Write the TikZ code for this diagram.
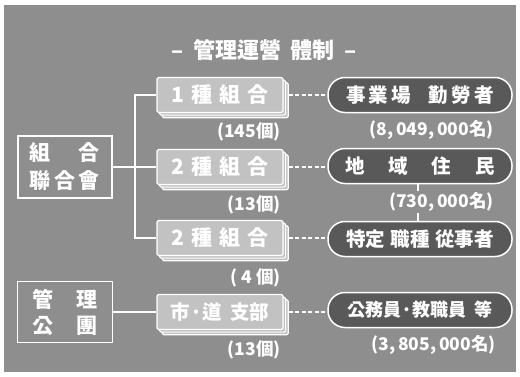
\documentclass[tikz,border=0pt]{standalone}
\usepackage{fontspec}
\setmainfont{Noto Sans CJK KR}
\usetikzlibrary{shadows}
\definecolor{bgc}{HTML}{8E8E8E}
\definecolor{boxc}{HTML}{C2C2C2}
\definecolor{pillc}{HTML}{595959}
\tikzset{
  stackbox/.style={rectangle, rounded corners=1.5pt, minimum width=126pt, minimum height=35pt,
    fill=boxc, draw=white, line width=1.2pt, text=white, inner sep=0pt,
    font=\fontsize{21}{24}\selectfont\bfseries,
    double copy shadow={shadow xshift=2.6pt, shadow yshift=-2.6pt}},
  pill/.style={rectangle, rounded corners=17pt, minimum width=184pt, minimum height=35pt,
    fill=pillc, draw=white, line width=1.5pt, text=white, inner sep=0pt,
    font=\fontsize{19.5}{22}\selectfont\bfseries},
  orgbox/.style={rectangle, fill=bgc, draw=white, line width=1.4pt, text=white, inner sep=0pt,
    align=center},
  cnt/.style={text=white, inner sep=1pt, font=\fontsize{17.5}{20}\selectfont\bfseries},
  conn/.style={draw=white, line width=1.8pt},
  dconn/.style={draw=white, line width=1.3pt, dash pattern=on 4pt off 2.5pt},
  ttl/.style={text=white, font=\fontsize{22}{25}\selectfont\bfseries}
}
\begin{document}
\begin{tikzpicture}[x=1pt,y=-1pt]
\useasboundingbox (0,0) rectangle (520,376);
\fill[white] (0,0) rectangle (520,376);
\fill[bgc] (4,5) rectangle (516,372);

\node[ttl] (title) at (264,50) {–\hspace{0.45em}管理運營\hspace{0.45em}體制\hspace{0.45em}–};

% stacked boxes
\node[stackbox] (b1) at (220,95) {\makebox[97pt][s]{1\hfill 種\hfill 組\hfill 合}};
\node[stackbox] (b2) at (220,167) {\makebox[97pt][s]{2\hfill 種\hfill 組\hfill 合}};
\node[stackbox] (b3) at (220,238) {\makebox[97pt][s]{2\hfill 種\hfill 組\hfill 合}};
\node[stackbox, font=\fontsize{19.5}{22}\selectfont\bfseries] (b4) at (220,312)
  {市·道\hspace{0.45em}支部};

\node[cnt, anchor=east] (c1) at (282,132) {(145個)};
\node[cnt, anchor=east] (c2) at (282,205) {(13個)};
\node[cnt, anchor=east] (c3) at (282,278) {(\ 4\ 個)};
\node[cnt, anchor=east] (c4) at (282,350) {(13個)};

% left boxes
\node[orgbox, minimum width=94pt, minimum height=62pt, font=\fontsize{21}{28}\selectfont\bfseries] (lb1) at (65,167)
  {\makebox[70pt][s]{組\hfill 合}\\\makebox[70pt][s]{聯\hfill 合\hfill 會}};
\node[orgbox, minimum width=95pt, minimum height=61pt, font=\fontsize{21}{26}\selectfont\bfseries] (lb2) at (65,312)
  {\makebox[66pt][s]{管\hfill 理}\\\makebox[66pt][s]{公\hfill 團}};

% pills
\node[pill] (p1) at (420,95) {\makebox[148pt][s]{事\hfill 業\hfill 場\hspace{0.9em}勤\hfill 勞\hfill 者}};
\node[pill] (p2) at (420,166) {\makebox[150pt][s]{地\hfill 域\hfill 住\hfill 民}};
\node[pill] (p3) at (420,239) {\makebox[148pt][s]{特定\hfill 職種\hfill 從事者}};
\node[pill, font=\fontsize{18}{22}\selectfont\bfseries] (p4) at (420,310) {公務員·教職員\hspace{0.4em}等};

% connectors
\coordinate (spine) at (135,0);
\coordinate (tick) at (418,0);
\draw[conn] (p2.south -| tick) -- (p3.north -| tick);

\node[cnt, anchor=east] (q1) at (495,130) {(8,\,049,\,000名)};
\node[cnt, anchor=east, fill=bgc] (q2) at (495,202) {(730,\,000名)};
\node[cnt, anchor=east] (q4) at (497,345) {(3,\,805,\,000名)};

\draw[conn] (b1.west) -- (b1.west -| spine) -- (b3.west -| spine) -- (b3.west);
\draw[conn] (lb1.east) -- (b2.west);
\draw[conn] (lb2.east) -- (b4.west);

\draw[dconn, shorten <=5pt] (b1.east) -- (p1.west);
\draw[dconn, shorten <=5pt] (b2.east) -- (p2.west |- b2.east);
\draw[dconn, shorten <=5pt] (b3.east) -- (p3.west |- b3.east);
\draw[dconn, shorten <=5pt] (b4.east) -- (p4.west |- b4.east);
\end{tikzpicture}
\end{document}
